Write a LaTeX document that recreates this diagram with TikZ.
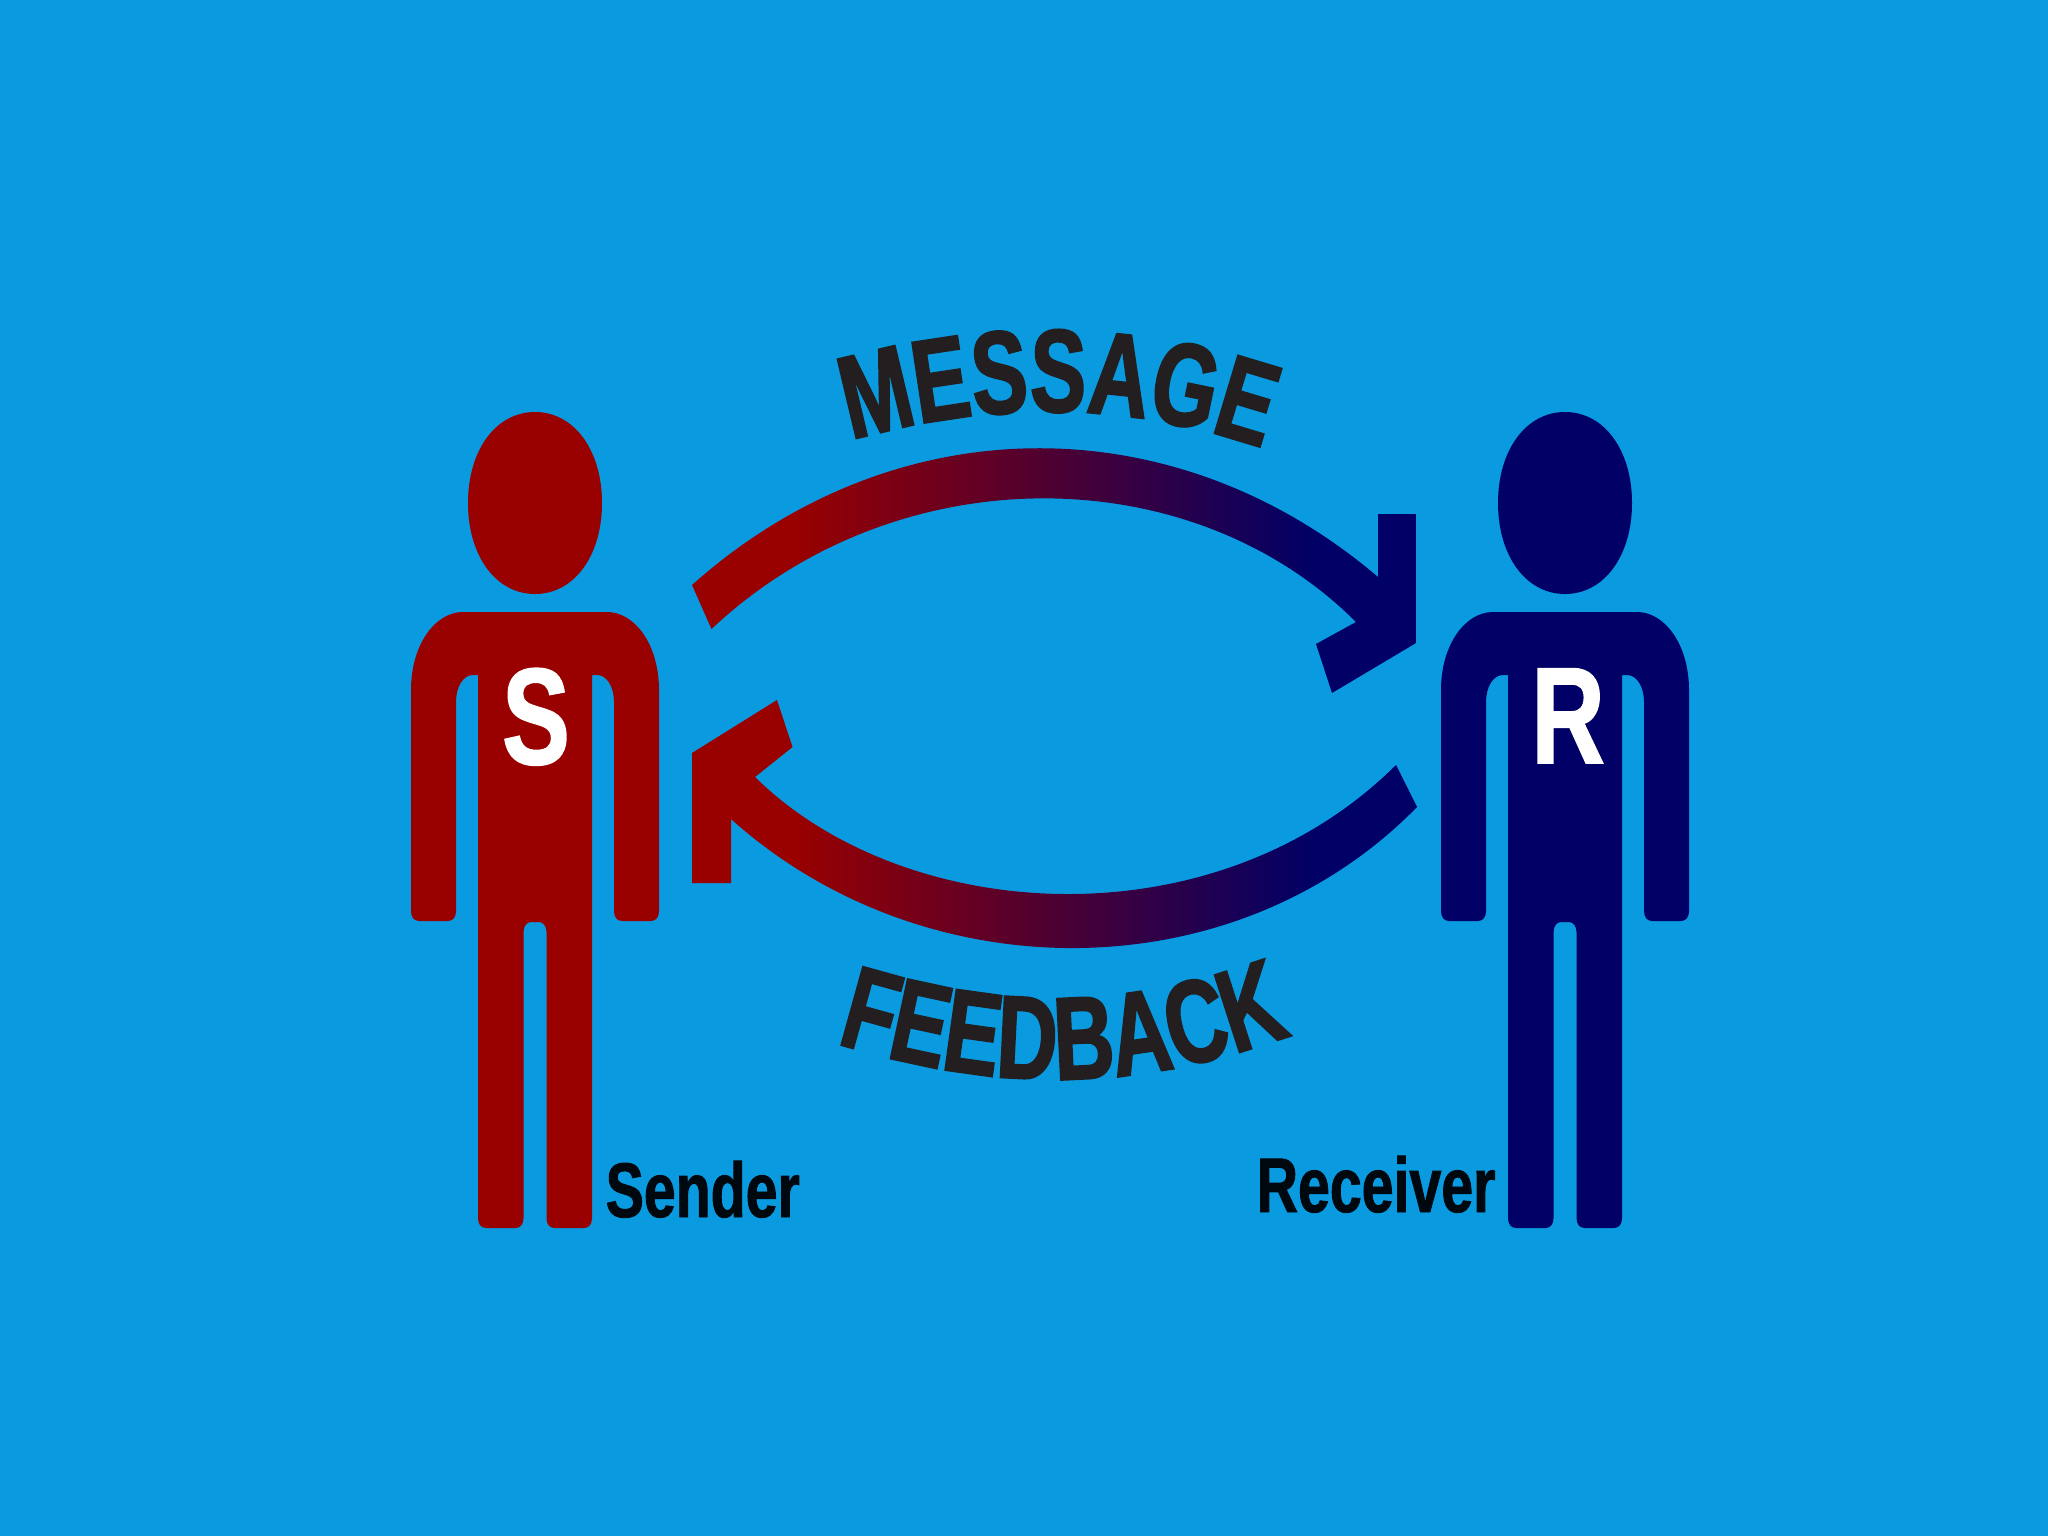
\documentclass[tikz,border=0pt]{standalone}
\usepackage{fontspec}
\usetikzlibrary{decorations.text}
\newfontfamily\labelfont[FakeStretch=0.74,BoldFeatures={FakeBold=1.2}]{Liberation Sans}
\newfontfamily\arcfamily[FakeStretch=0.71,BoldFeatures={FakeBold=1.8}]{Liberation Sans}
\newcommand{\arcfont}{\fontsize{33.5}{34}\selectfont\arcfamily\bfseries}
\definecolor{bgblue}{HTML}{0A9AE0}
\definecolor{senderred}{HTML}{990000}
\definecolor{receivernavy}{HTML}{000066}
\definecolor{arcink}{HTML}{231F20}
\definecolor{nameink}{HTML}{00080F}
\pgfdeclarehorizontalshading{redtonavy}{100bp}{color(0bp)=(senderred); color(32bp)=(senderred);
  color(68bp)=(receivernavy); color(100bp)=(receivernavy)}

\begin{document}
\begin{tikzpicture}[
    x=0.01cm, y=-0.01cm,
    chest/.style={anchor=base, inner sep=0pt, text=white,
                  font=\fontsize{39}{39}\selectfont\labelfont\bfseries},
    caption/.style={anchor=base west, inner sep=0pt, text=nameink,
                    font=\fontsize{22}{22}\selectfont\labelfont\bfseries},
    band/.style={shading=redtonavy},
    arctext/.style={decorate, decoration={text along path, text align=center,
                    text color=arcink, text={|\arcfont|#1}}},
    person/.pic={
      \foreach \side in {1,-1} {
        % head
        \fill[pic actions, xscale=\side] (-1,412) -- (0,412)
          .. controls (39,412) and (67,450) .. (67,503)
          .. controls (67,556) and (39,594) .. (0,594) -- (-1,594) -- cycle;
        % arm, torso and leg
        \fill[pic actions, xscale=\side] (-1,612) -- (72,612)
          .. controls (100,612) and (124,645) .. (124,690) -- (124,911)
          .. controls (124,917) and (121,921) .. (116,921) -- (87,921)
          .. controls (82,921) and (79,917) .. (79,911) -- (79,702)
          .. controls (79,687) and (72,675) .. (62,675) -- (57,675) -- (57,1218)
          .. controls (57,1224) and (54,1228) .. (49,1228) -- (19.5,1228)
          .. controls (14.5,1228) and (11.5,1224) .. (11.5,1218) -- (11.5,932)
          .. controls (11.5,926) and (8,922) .. (4,922) -- (-1,922) -- cycle;
      }
    }
  ]
  \useasboundingbox (0,0) rectangle (2048,1536);
  \fill[bgblue] (0,0) rectangle (2048,1536);

  % People
  \pic[fill=senderred] at (535,0) {person};
  \pic[fill=receivernavy] at (1565,0) {person};
  \node[chest] (sletter) at (536,764) {S};
  \node[chest] (rletter) at (1568,763) {R};
  \node[caption] (sender) at (605,1217) {Sender};
  \node[caption] (receiver) at (1256,1212) {Receiver};

  % Message arrow
  \shade[band] (692,585) .. controls (895,404) and (1175,404) .. (1378,577)
    -- (1378,514) -- (1416,514) -- (1416,643) -- (1332,693) -- (1316,644) -- (1356,622)
    .. controls (1190,456) and (895,456) .. (711.5,629) -- cycle;
  \path[arctext=MESSAGE] (852,440) .. controls (990,401) and (1125,401) .. (1262,448);

  % Feedback arrow
  \shade[band] (692,753) -- (777,700) -- (792.5,747) -- (755,777)
    .. controls (905,925) and (1215,945) .. (1396,765)
    -- (1417,807) .. controls (1235,993) and (925,993) .. (731,819)
    -- (731,883) -- (692,883) -- cycle;
  \path[arctext=FEEDBACK] (842,1045) .. controls (1000,1092) and (1130,1092) .. (1286,1037);
\end{tikzpicture}
\end{document}
